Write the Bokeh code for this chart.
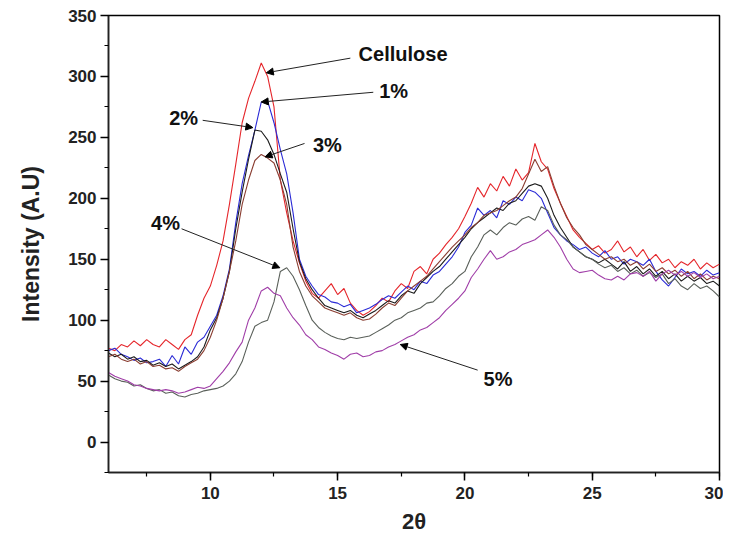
import numpy as np
from bokeh.plotting import figure
from bokeh.models import Label, Arrow, NormalHead, SingleIntervalTicker, Range1d
from bokeh.embed import file_html
from bokeh.resources import INLINE

# 2-theta grid (degrees), step 0.25 from 6 to 30
two_theta = list(np.round(np.arange(6.0, 30.001, 0.25), 2))

cellulose = [
    77, 75, 80, 78,  83, 79, 84, 80,  78, 84, 80, 76,  84, 88, 104, 118,
    128, 145, 165, 195,  228, 262, 282, 296,  311, 300, 275, 215,  188, 165, 147, 132,
    122, 118, 124, 130,  121, 126, 114, 108,  104, 107, 112, 118,  115, 124, 130, 126,
    140, 144, 138, 150,  155, 162, 168, 175,  185, 196, 209, 201,  212, 206, 218, 210,
    224, 215, 221, 245,  230, 224, 208, 196,  185, 174, 168, 163,  158, 161, 155, 158,
    165, 156, 160, 152,  158, 149, 154, 147,  150, 143, 148, 145,  150, 142, 147, 143,
    146]
pct1 = [
    75, 77, 72, 70,  67, 69, 65, 66,  68, 62, 71, 64,  78, 72, 82, 86,
    95, 104, 120, 142,  180, 212, 235, 256,  279, 280, 262, 240,  220, 188, 150, 136,
    128, 121, 119, 115,  114, 111, 113, 106,  108, 110, 113, 117,  120, 118, 123, 128,
    125, 132, 130, 137,  140, 146, 152, 160,  172, 178, 192, 186,  190, 184, 198, 195,
    201, 198, 207, 205,  200, 188, 176, 170,  165, 162, 158, 160,  155, 152, 157, 150,
    152, 146, 150, 148,  145, 150, 140, 133,  128, 135, 142, 138,  140, 136, 141, 137,
    139]
pct2 = [
    73, 70, 72, 68,  70, 66, 67, 63,  65, 62, 64, 60,  63, 66, 70, 78,
    92, 102, 118, 140,  175, 205, 232, 256,  255, 248, 236, 220,  205, 175, 148, 134,
    125, 118, 112, 110,  108, 106, 108, 104,  102, 105, 108, 112,  116, 114, 120, 124,
    122, 130, 135, 140,  144, 150, 156, 162,  168, 175, 180, 184,  188, 192, 190, 196,
    198, 204, 210, 212,  210, 200, 186, 176,  168, 160, 156, 152,  150, 147, 150, 146,
    142, 148, 140, 144,  138, 142, 136, 140,  134, 138, 132, 136,  132, 135, 130, 132,
    128]
pct3 = [
    70, 72, 68, 66,  68, 64, 66, 62,  63, 60, 61, 58,  62, 65, 68, 75,
    86, 100, 118, 140,  165, 195, 215, 231,  236, 233, 229, 215,  195, 160, 140, 128,
    120, 115, 110, 108,  106, 104, 106, 102,  100, 101, 105, 110,  114, 112, 118, 124,
    128, 132, 136, 142,  148, 154, 160, 165,  170, 176, 180, 186,  188, 190, 194, 198,
    201, 208, 220, 232,  222, 226, 210, 196,  184, 176, 170, 162,  158, 154, 150, 152,
    148, 150, 145, 148,  142, 146, 140, 143,  138, 141, 136, 140,  134, 138, 133, 136,
    134]
pct4 = [
    55, 52, 50, 49,  46, 47, 44, 42,  43, 40, 41, 38,  37, 39, 40, 42,
    43, 44, 46, 50,  56, 66, 82, 95,  98, 100, 115, 140,  143, 136, 125, 112,
    100, 94, 90, 87,  85, 84, 86, 85,  86, 87, 90, 93,  96, 100, 102, 106,
    108, 110, 114, 115,  120, 126, 130, 136,  140, 152, 160, 170,  174, 170, 176, 180,
    178, 183, 185, 182,  193, 190, 178, 170,  166, 160, 156, 152,  150, 146, 143, 145,
    140, 143, 138, 141,  136, 139, 135, 138,  130, 134, 128, 125,  130, 126, 128, 124,
    119]
pct5 = [
    57, 54, 52, 50,  47, 46, 44, 43,  42, 43, 42, 40,  41, 43, 45, 44,
    46, 52, 58, 65,  74, 82, 100, 110,  124, 127, 122, 120,  110, 102, 96, 88,
    84, 78, 76, 73,  71, 68, 72, 73,  70, 71, 74, 75,  78, 80, 83, 86,
    88, 92, 94, 98,  102, 108, 113, 118,  124, 135, 142, 150,  157, 150, 152, 156,
    158, 162, 164, 166,  170, 174, 168, 160,  150, 142, 139, 140,  141, 137, 134, 133,
    136, 133, 138, 139,  136, 140, 132, 138,  141, 137, 140, 136,  139, 135, 138, 134,
    136]

series_names = ["Cellulose", "1%", "2%", "3%", "4%", "5%"]
series_values = [cellulose, pct1, pct2, pct3, pct4, pct5]
series_colors = ["#e5262b", "#2b2bd6", "#1c1c1c", "#8a3e32", "#5a605a", "#a03ea8"]

# annotation labels (text position) and arrows (tail -> head), data coords
label_x = [17.57, 17.2, 8.95, 14.6, 8.24, 21.3]
label_y = [318, 288, 266, 244, 180, 52]
arrow_x0 = [15.5, 16.4, 9.7, 13.7, 8.87, 20.5]
arrow_y0 = [315, 287, 264, 245, 175, 59]
arrow_x1 = [12.2, 12.0, 11.67, 12.15, 12.73, 17.46]
arrow_y1 = [303, 279, 258, 234, 143, 80]

p = figure(x_range=Range1d(6, 30), y_range=Range1d(-25, 350),
           frame_width=611, frame_height=457,
           min_border_left=108, min_border_right=4, min_border_top=15, min_border_bottom=58,
           output_backend="svg", toolbar_location=None)

p.xgrid.visible = False
p.ygrid.visible = False
p.outline_line_color = "black"
p.outline_line_width = 1.5

for name, vals, col in zip(series_names, series_values, series_colors):
    p.line(two_theta, vals, line_color=col, line_width=1.1)

p.xaxis.ticker = SingleIntervalTicker(interval=5, num_minor_ticks=2)
p.yaxis.ticker = SingleIntervalTicker(interval=50, num_minor_ticks=2)
for ax in (p.xaxis[0], p.yaxis[0]):
    ax.major_tick_in = 0
    ax.major_tick_out = 8
    ax.minor_tick_in = 0
    ax.minor_tick_out = 4
    ax.axis_line_width = 1.5
    ax.major_tick_line_width = 1.5
    ax.minor_tick_line_width = 1.2
    ax.axis_line_color = "#222222"
    ax.major_label_text_font = "Liberation Sans"
    ax.major_label_text_font_style = "bold"
    ax.major_label_text_font_size = "17px"
    ax.major_label_text_color = "#222222"
    ax.axis_label_text_font = "Liberation Sans"
    ax.axis_label_text_font_style = "bold"
    ax.axis_label_text_color = "#222222"

p.xaxis.axis_label = "2θ"
p.yaxis.axis_label = "Intensity (A.U)"
p.xaxis.axis_label_text_font_size = "22px"
p.yaxis.axis_label_text_font_size = "23px"
p.xaxis.major_label_standoff = 6
p.xaxis.axis_label_standoff = 7
p.yaxis.major_label_standoff = 4
p.yaxis.axis_label_standoff = 21

for i, name in enumerate(series_names):
    p.add_layout(Arrow(end=NormalHead(size=7, fill_color="black", line_color="black"),
                       x_start=arrow_x0[i], y_start=arrow_y0[i],
                       x_end=arrow_x1[i], y_end=arrow_y1[i],
                       line_color="#222222", line_width=1))
    p.add_layout(Label(x=label_x[i], y=label_y[i], text=name,
                       text_font="Liberation Sans", text_font_style="bold",
                       text_font_size="20px", text_color="#111111",
                       text_align="center", text_baseline="middle"))

open("out.html", "w").write(file_html(p, INLINE))
